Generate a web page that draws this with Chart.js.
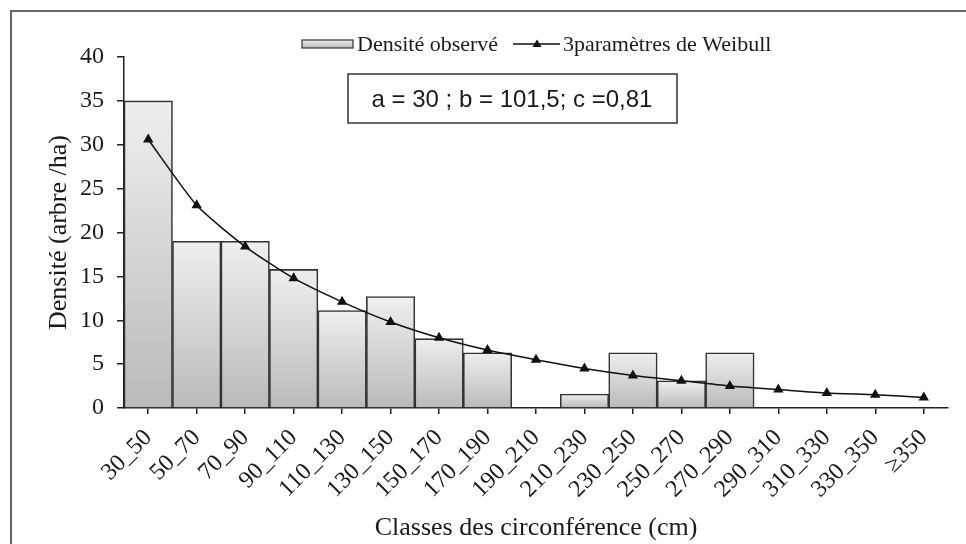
<!DOCTYPE html>
<html>
<head>
<meta charset="utf-8">
<script src="https://cdn.jsdelivr.net/npm/chart.js"></script>
<style>
  html, body { margin: 0; padding: 0; background: #fff; }
  #wrap { position: relative; width: 966px; height: 544px; }
</style>
</head>
<body>
<div id="wrap"><canvas id="chart"></canvas></div>
<script>
const CLASSES = [
  "30_50", "50_70", "70_90", "90_110", "110_130", "130_150", "150_170",
  "170_190", "190_210", "210_230", "230_250", "250_270", "270_290",
  "290_310", "310_330", "330_350", "≥350",
];
const OBSERVED = [35, 19.0, 19.0, 15.8, 11.1, 12.7, 7.9, 6.3, 0, 1.6, 6.3, 3.1, 6.3, 0, 0, 0, 0];
const WEIBULL = [30.6, 23.1, 18.4, 14.8, 12.1, 9.8, 8.0, 6.6, 5.5, 4.5, 3.7, 3.1, 2.5, 2.1, 1.7, 1.5, 1.2];
const Y_TICKS = [0, 5, 10, 15, 20, 25, 30, 35, 40];
const PARAMS_TEXT = "a = 30 ; b = 101,5; c =0,81";

const SERIF = "'Liberation Serif', 'Times New Roman', serif";
const SANS = "'Liberation Sans', Arial, sans-serif";
const INK = "#1a1a1a";

const barGradient = (ctx, top, bottom) => {
  const g = ctx.createLinearGradient(0, top, 0, bottom);
  g.addColorStop(0, "#efefef");
  g.addColorStop(1, "#bababa");
  return g;
};

const barFill = (context) => {
  const chart = context.chart;
  const y = chart.scales.y;
  if (!y || context.dataIndex === undefined) return "#d5d5d5";
  const v = context.dataset.data[context.dataIndex] || 0;
  const top = y.getPixelForValue(v);
  const bottom = y.getPixelForValue(0);
  if (!isFinite(top) || !isFinite(bottom) || bottom - top < 1) return "#d5d5d5";
  return barGradient(chart.ctx, top, bottom);
};

// frame, parameter box and legend
const decorations = {
  id: "decorations",
  afterDraw(chart) {
    const ctx = chart.ctx;
    ctx.save();

    // outer frame (cropped at right and bottom)
    ctx.strokeStyle = "#666";
    ctx.lineWidth = 2;
    ctx.strokeRect(11, 11, 1100, 1100);

    // parameter box
    ctx.strokeStyle = "#333";
    ctx.lineWidth = 1.5;
    ctx.fillStyle = "#fff";
    ctx.fillRect(348, 74, 329, 49);
    ctx.strokeRect(348, 74, 329, 49);
    ctx.fillStyle = INK;
    ctx.font = "24px " + SANS;
    ctx.textAlign = "center";
    ctx.textBaseline = "middle";
    ctx.fillText(PARAMS_TEXT, 512, 100);

    // legend
    const [barSet, lineSet] = chart.data.datasets;
    ctx.font = "22px " + SERIF;
    ctx.textAlign = "left";
    ctx.fillStyle = barGradient(ctx, 40, 48);
    ctx.fillRect(302, 40, 51, 8);
    ctx.strokeStyle = "#333";
    ctx.lineWidth = 1.2;
    ctx.strokeRect(302, 40, 51, 8);
    ctx.fillStyle = INK;
    ctx.fillText(barSet.label, 357, 45);

    ctx.strokeStyle = "#111";
    ctx.lineWidth = 1.5;
    ctx.beginPath();
    ctx.moveTo(513, 44);
    ctx.lineTo(560, 44);
    ctx.stroke();
    ctx.fillStyle = "#111";
    ctx.beginPath();
    ctx.moveTo(537, 39.5);
    ctx.lineTo(541.5, 47);
    ctx.lineTo(532.5, 47);
    ctx.closePath();
    ctx.fill();
    ctx.fillStyle = INK;
    ctx.fillText(lineSet.label, 563, 45);

    ctx.restore();
  },
};

new Chart(document.getElementById("chart"), {
  type: "bar",
  data: {
    labels: CLASSES,
    datasets: [
      {
        type: "bar",
        label: "Densité observé",
        data: OBSERVED,
        backgroundColor: barFill,
        borderColor: "#333",
        borderWidth: 1.6,
        borderSkipped: "bottom",
        categoryPercentage: 1,
        barPercentage: 1,
        order: 2,
      },
      {
        type: "line",
        label: "3paramètres de Weibull",
        data: WEIBULL,
        borderColor: "#111",
        backgroundColor: "#111",
        borderWidth: 1.5,
        tension: 0.2,
        pointStyle: "triangle",
        pointRadius: 4.5,
        pointBackgroundColor: "#111",
        pointBorderColor: "#111",
        order: 1,
      },
    ],
  },
  options: {
    responsive: true,
    maintainAspectRatio: false,
    animation: false,
    layout: { padding: { left: 20, right: 18, top: 57, bottom: 0 } },
    plugins: {
      legend: { display: false },
      tooltip: { enabled: false },
    },
    scales: {
      x: {
        offset: true,
        grid: {
          offset: false,
          drawOnChartArea: false,
          drawTicks: true,
          tickLength: 6,
          color: "#222",
          lineWidth: 1.5,
        },
        border: { display: true, color: "#222", width: 1.5 },
        ticks: {
          autoSkip: false,
          minRotation: 45,
          maxRotation: 45,
          padding: 10,
          color: INK,
          font: { family: SERIF, size: 24 },
        },
        title: {
          display: true,
          text: "Classes des circonférence (cm)",
          color: INK,
          font: { family: SERIF, size: 26 },
          padding: { top: 0, bottom: 0 },
        },
        afterFit: (scale) => { scale.height = 136; },
      },
      y: {
        min: 0,
        max: 40,
        afterBuildTicks: (scale) => {
          scale.ticks = Y_TICKS.map((v) => ({ value: v }));
        },
        grid: {
          drawOnChartArea: false,
          drawTicks: true,
          tickLength: 7,
          color: "#222",
          lineWidth: 1.5,
        },
        border: { display: true, color: "#222", width: 1.5 },
        ticks: {
          padding: 13,
          color: INK,
          font: { family: SERIF, size: 24 },
        },
        title: {
          display: true,
          text: "Densité (arbre /ha)",
          color: INK,
          font: { family: SERIF, size: 26 },
          padding: { top: 24, bottom: 0 },
        },
        afterFit: (scale) => { scale.width = 104; },
      },
    },
  },
  plugins: [decorations],
});
</script>
</body>
</html>
